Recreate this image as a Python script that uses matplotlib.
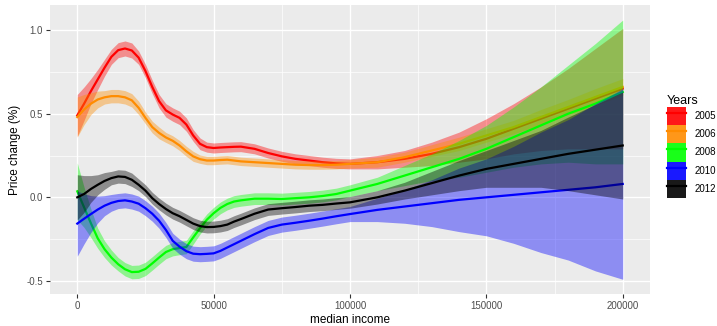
import numpy as np
import matplotlib
matplotlib.use("Agg")
import matplotlib.pyplot as plt
from matplotlib.patches import Patch
from matplotlib.lines import Line2D
from matplotlib.ticker import MultipleLocator, FuncFormatter

plt.rcParams['font.family'] = ['Liberation Sans', 'DejaVu Sans']

# median income grid
income = [0, 2500, 5000, 7500, 10000, 12500, 15000, 17500, 20000, 22500,
          25000, 27500, 30000, 32500, 35000, 37500, 40000, 42500, 45000, 47500,
          50000, 52500, 55000, 57500, 60000,
          65000, 70000, 75000, 80000, 85000, 90000, 95000, 100000,
          110000, 120000, 130000, 140000, 150000, 160000, 170000, 180000, 190000, 200000]

years = ['2005', '2006', '2008', '2010', '2012']
colors = ['#FF0000', '#FF8C00', '#00FF00', '#0000FF', '#000000']

fit_2005 = [0.49, 0.56, 0.635, 0.705, 0.775, 0.84, 0.88, 0.89, 0.878, 0.835,
            0.755, 0.66, 0.575, 0.52, 0.495, 0.475, 0.435, 0.37, 0.32, 0.30,
            0.295, 0.298, 0.30, 0.302, 0.303,
            0.29, 0.265, 0.245, 0.23, 0.22, 0.21, 0.203, 0.20,
            0.21, 0.23, 0.26, 0.30, 0.35, 0.41, 0.47, 0.53, 0.59, 0.65]
ci_2005 = [0.125, 0.10, 0.075, 0.06, 0.05, 0.045, 0.045, 0.045, 0.045, 0.04,
           0.04, 0.04, 0.04, 0.04, 0.04, 0.04, 0.04, 0.035, 0.035, 0.03,
           0.03, 0.03, 0.03, 0.03, 0.03,
           0.03, 0.03, 0.03, 0.03, 0.03, 0.03, 0.03, 0.03,
           0.04, 0.05, 0.07, 0.09, 0.12, 0.15, 0.19, 0.24, 0.30, 0.36]

fit_2006 = [0.48, 0.525, 0.56, 0.585, 0.598, 0.605, 0.605, 0.598, 0.58, 0.535,
            0.475, 0.42, 0.385, 0.358, 0.338, 0.31, 0.275, 0.245, 0.228, 0.22,
            0.22, 0.223, 0.225, 0.22, 0.215,
            0.21, 0.205, 0.20, 0.195, 0.193, 0.193, 0.195, 0.20,
            0.21, 0.24, 0.28, 0.32, 0.37, 0.42, 0.48, 0.54, 0.60, 0.66]
ci_2006 = [0.12, 0.09, 0.065, 0.05, 0.04, 0.04, 0.04, 0.04, 0.04, 0.04,
           0.035, 0.035, 0.035, 0.03, 0.03, 0.03, 0.03, 0.03, 0.025, 0.025,
           0.025, 0.025, 0.025, 0.025, 0.025,
           0.025, 0.025, 0.025, 0.025, 0.025, 0.025, 0.025, 0.025,
           0.03, 0.03, 0.035, 0.04, 0.04, 0.04, 0.045, 0.045, 0.05, 0.05]

fit_2008 = [0.036, -0.06, -0.155, -0.245, -0.31, -0.36, -0.40, -0.43, -0.447, -0.445,
            -0.428, -0.395, -0.36, -0.327, -0.31, -0.303, -0.297, -0.24, -0.185, -0.134,
            -0.095, -0.063, -0.04, -0.025, -0.018,
            -0.008, -0.008, -0.01, -0.005, 0.0, 0.008, 0.02, 0.04,
            0.08, 0.13, 0.18, 0.23, 0.29, 0.36, 0.43, 0.50, 0.56, 0.63]
ci_2008 = [0.17, 0.12, 0.085, 0.06, 0.05, 0.045, 0.04, 0.04, 0.04, 0.04,
           0.04, 0.04, 0.04, 0.04, 0.04, 0.04, 0.04, 0.04, 0.035, 0.035,
           0.035, 0.035, 0.035, 0.035, 0.035,
           0.035, 0.035, 0.035, 0.035, 0.035, 0.035, 0.035, 0.035,
           0.04, 0.06, 0.08, 0.11, 0.14, 0.18, 0.23, 0.29, 0.36, 0.43]

fit_2010 = [-0.157, -0.128, -0.10, -0.073, -0.05, -0.033, -0.022, -0.018, -0.025, -0.038,
            -0.065, -0.098, -0.14, -0.195, -0.26, -0.295, -0.322, -0.337, -0.34, -0.338,
            -0.335, -0.32, -0.30, -0.28, -0.26,
            -0.22, -0.183, -0.163, -0.152, -0.14, -0.127, -0.113, -0.10,
            -0.075, -0.055, -0.035, -0.015, 0.0, 0.015, 0.03, 0.045, 0.06, 0.08]
ci_2010 = [0.195, 0.15, 0.11, 0.08, 0.06, 0.05, 0.045, 0.045, 0.045, 0.045,
           0.045, 0.045, 0.045, 0.045, 0.045, 0.045, 0.045, 0.045, 0.045, 0.045,
           0.045, 0.045, 0.045, 0.045, 0.045,
           0.045, 0.045, 0.045, 0.045, 0.045, 0.045, 0.045, 0.045,
           0.07, 0.10, 0.14, 0.19, 0.23, 0.29, 0.36, 0.42, 0.50, 0.57]

fit_2012 = [0.0, 0.02, 0.05, 0.075, 0.098, 0.115, 0.125, 0.122, 0.105, 0.075,
            0.04, -0.005, -0.04, -0.07, -0.095, -0.113, -0.135, -0.157, -0.172, -0.178,
            -0.177, -0.172, -0.163, -0.145, -0.13,
            -0.098, -0.073, -0.065, -0.058, -0.05, -0.045, -0.037, -0.03,
            0.0, 0.04, 0.085, 0.13, 0.17, 0.20, 0.23, 0.26, 0.285, 0.31]
ci_2012 = [0.135, 0.11, 0.08, 0.06, 0.05, 0.04, 0.04, 0.04, 0.04, 0.035,
           0.035, 0.035, 0.035, 0.035, 0.035, 0.035, 0.035, 0.035, 0.035, 0.035,
           0.035, 0.035, 0.035, 0.035, 0.035,
           0.035, 0.035, 0.035, 0.035, 0.035, 0.035, 0.035, 0.035,
           0.04, 0.05, 0.07, 0.09, 0.11, 0.14, 0.17, 0.22, 0.27, 0.32]

fits = [fit_2005, fit_2006, fit_2008, fit_2010, fit_2012]
cis = [ci_2005, ci_2006, ci_2008, ci_2010, ci_2012]

fig = plt.figure(figsize=(7.17, 3.26), dpi=100)
ax = fig.add_axes([50 / 717, 1 - 294 / 326, 600 / 717, 289 / 326])
ax.set_facecolor('#EBEBEB')

x = np.array(income)
z = 2
for yr, col, f, c in zip(years, colors, fits, cis):
    f = np.array(f)
    c = np.array(c)
    # ribbon then line per group, like geom_smooth
    ax.fill_between(x, f - c, f + c, color=col, alpha=0.4, linewidth=0, zorder=z)
    ax.plot(x, f, color=col, lw=1.6, zorder=z + 1, solid_joinstyle='round')
    z += 2

ax.set_xlim(-10000, 210000)
ax.set_ylim(-0.578, 1.15)
ax.xaxis.set_major_locator(MultipleLocator(50000))
ax.xaxis.set_minor_locator(MultipleLocator(25000))
ax.yaxis.set_major_locator(MultipleLocator(0.5))
ax.yaxis.set_minor_locator(MultipleLocator(0.25))
ax.yaxis.set_major_formatter(FuncFormatter(lambda v, p: f'{v:.1f}'))
ax.xaxis.set_major_formatter(FuncFormatter(lambda v, p: f'{int(v)}'))
ax.grid(which='major', color='white', lw=1.0, zorder=1)
ax.grid(which='minor', color='white', lw=0.5, zorder=1)
ax.set_axisbelow(True)
for s in ax.spines.values():
    s.set_visible(False)
ax.tick_params(which='major', length=3, width=0.8, color='#333333', labelsize=7, labelcolor='#4D4D4D', pad=2)
ax.tick_params(which='minor', length=0)

ax.set_xlabel('median income', fontsize=8.5, labelpad=2)
ax.set_ylabel('Price change (%)', fontsize=8.5, labelpad=4)

handles = [(Patch(facecolor=col, alpha=0.9, linewidth=0), Line2D([], [], color=col, lw=1.6))
           for col in colors]
leg = fig.legend(handles, years, title='Years', loc='upper left',
                 bbox_to_anchor=(667 / 717, 1 - 95 / 326), frameon=False, borderpad=0,
                 fontsize=7, title_fontsize=9, handlelength=1.95, handleheight=2.5,
                 handletextpad=0.85, labelspacing=0.0, borderaxespad=0)
leg._legend_box.align = 'left'

fig.savefig('out.png', dpi=100)
